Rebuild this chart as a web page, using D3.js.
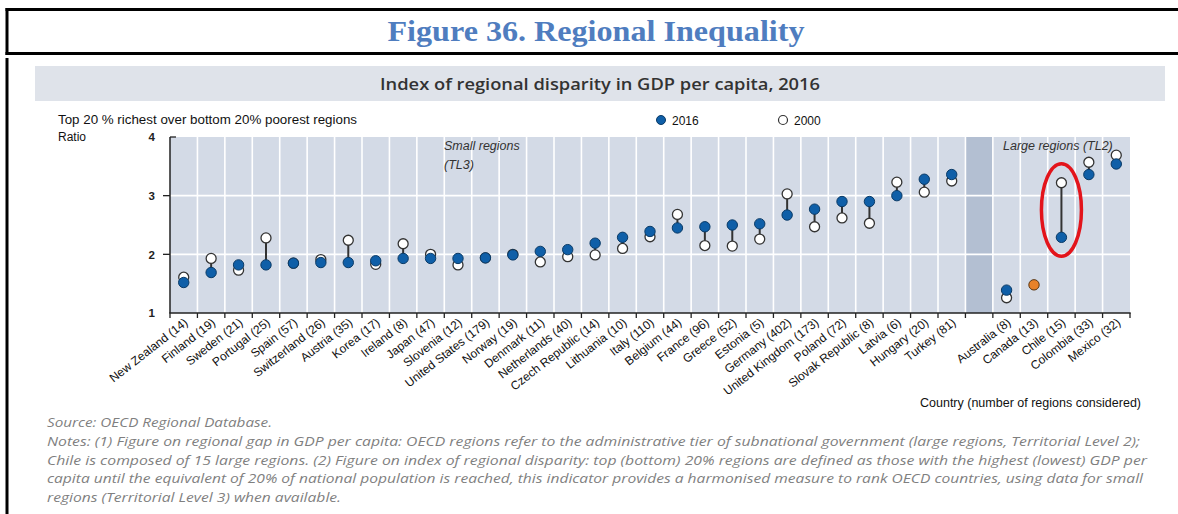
<!DOCTYPE html>
<html>
<head>
<meta charset="utf-8">
<script src="https://cdn.jsdelivr.net/npm/d3@7/dist/d3.min.js"></script>
<style>
  html, body { margin: 0; padding: 0; background: #fff; }
  svg { display: block; }
</style>
</head>
<body>
<svg id="chart" width="1178" height="514"></svg>
<script>
// Countries (number of regions considered), small regions (TL3)
const smallCountries = ["New Zealand (14)", "Finland (19)", "Sweden (21)", "Portugal (25)", "Spain (57)",
  "Switzerland (26)", "Austria (35)", "Korea (17)", "Ireland (8)", "Japan (47)", "Slovenia (12)",
  "United States (179)", "Norway (19)", "Denmark (11)", "Netherlands (40)", "Czech Republic (14)",
  "Lithuania (10)", "Italy (110)", "Belgium (44)", "France (96)", "Greece (52)", "Estonia (5)",
  "Germany (402)", "United Kingdom (173)", "Poland (72)", "Slovak Republic (8)", "Latvia (6)",
  "Hungary (20)", "Turkey (81)"];
const small2016 = [1.52, 1.69, 1.82, 1.82, 1.85, 1.86, 1.86, 1.89, 1.93, 1.93, 1.93, 1.94, 1.99, 2.05,
  2.08, 2.19, 2.29, 2.39, 2.45, 2.47, 2.50, 2.52, 2.67, 2.77, 2.90, 2.90, 3.00, 3.28, 3.36];
const small2000 = [1.61, 1.93, 1.73, 2.28, 1.85, 1.91, 2.24, 1.83, 2.18, 2.00, 1.82, 1.94, 2.00, 1.87,
  1.96, 1.99, 2.10, 2.30, 2.68, 2.15, 2.14, 2.26, 3.03, 2.47, 2.62, 2.53, 3.23, 3.06, 3.25];

// Large regions (TL2)
const largeCountries = ["Australia (8)", "Canada (13)", "Chile (15)", "Colombia (33)", "Mexico (32)"];
const large2016 = [1.39, 1.48, 2.29, 3.36, 3.54];
const large2000 = [1.26, null, 3.22, 3.57, 3.69];

const yTicks = [1, 2, 3, 4];
const highlighted = "Chile (15)";   // circled country
const noHistory = "Canada (13)";    // 2016 only, shown in orange
const GAP = "__gap__";

const rows = smallCountries.map((c, i) => ({ c, v16: small2016[i], v00: small2000[i] }))
  .concat(largeCountries.map((c, i) => ({ c, v16: large2016[i], v00: large2000[i] })));
const domain = smallCountries.concat([GAP], largeCountries);

const svg = d3.select("#chart");

// ---- Figure header box ----
const frame = svg.append("g").attr("stroke", "#000").attr("stroke-width", 3).attr("fill", "none");
frame.append("line").attr("x1", 5.5).attr("x2", 1178).attr("y1", 9.5).attr("y2", 9.5);
frame.append("line").attr("x1", 5.5).attr("x2", 1178).attr("y1", 53.5).attr("y2", 53.5);
frame.append("line").attr("x1", 7).attr("x2", 7).attr("y1", 8).attr("y2", 55);
frame.append("line").attr("x1", 7).attr("x2", 7).attr("y1", 58).attr("y2", 514);

svg.append("text")
  .attr("x", 596).attr("y", 41)
  .attr("text-anchor", "middle")
  .attr("font-family", "Liberation Serif, Times New Roman, serif")
  .attr("font-weight", "bold")
  .attr("font-size", 29)
  .attr("fill", "#4f7dbf")
  .attr("textLength", 417).attr("lengthAdjust", "spacingAndGlyphs")
  .text("Figure 36. Regional Inequality");

// ---- Chart title band ----
svg.append("rect").attr("x", 35).attr("y", 66).attr("width", 1130).attr("height", 35).attr("fill", "#dfe3ea");
svg.append("text")
  .attr("x", 600).attr("y", 89.5)
  .attr("text-anchor", "middle")
  .attr("font-family", "Open Sans, sans-serif")
  .attr("font-weight", 600)
  .attr("font-size", 16)
  .attr("fill", "#333")
  .attr("textLength", 440).attr("lengthAdjust", "spacingAndGlyphs")
  .text("Index of regional disparity in GDP per capita, 2016");

const sans = "Liberation Sans, Arial, sans-serif";
svg.append("text").attr("x", 58).attr("y", 124).attr("font-family", sans).attr("font-size", 12)
  .attr("fill", "#111").attr("textLength", 299).attr("lengthAdjust", "spacingAndGlyphs")
  .text("Top 20 % richest over bottom  20% poorest regions");
svg.append("text").attr("x", 58).attr("y", 141).attr("font-family", sans).attr("font-size", 12)
  .attr("fill", "#111").text("Ratio");

// ---- Legend ----
const legend = svg.append("g").attr("font-family", sans).attr("font-size", 12).attr("fill", "#111");
legend.append("circle").attr("cx", 661).attr("cy", 120).attr("r", 4.5)
  .attr("fill", "#0f5fa8").attr("stroke", "#0a3a66").attr("stroke-width", 1);
legend.append("text").attr("x", 672).attr("y", 124.5).text("2016");
legend.append("circle").attr("cx", 783).attr("cy", 120).attr("r", 4.5)
  .attr("fill", "#fff").attr("stroke", "#333").attr("stroke-width", 1.2);
legend.append("text").attr("x", 794).attr("y", 124.5).text("2000");

// ---- Scales ----
const x = d3.scaleBand().domain(domain).range([170, 1130]).padding(0);
const y = d3.scaleLinear().domain([1, 4]).range([313, 137]);
const bw = x.bandwidth();

const plot = svg.append("g");
plot.append("rect").attr("x", 170).attr("y", y(4)).attr("width", 960).attr("height", y(1) - y(4))
  .attr("fill", "#d3dae6");
plot.append("rect").attr("x", x(GAP)).attr("y", y(4)).attr("width", bw).attr("height", y(1) - y(4))
  .attr("fill", "#b3bfd2");

// horizontal gridlines
plot.selectAll("line.hg").data(yTicks.filter(t => t > 1 && t < 4)).join("line")
  .attr("x1", 170).attr("x2", 1130).attr("y1", d => y(d)).attr("y2", d => y(d))
  .attr("stroke", "#fff").attr("stroke-width", 1.6);

// vertical separators between countries
plot.selectAll("line.vg").data(domain.slice(1)).join("line")
  .attr("x1", d => x(d)).attr("x2", d => x(d)).attr("y1", y(4)).attr("y2", y(1))
  .attr("stroke", "#fff").attr("stroke-width", 1.6);

// ---- Axes ----
const yAxis = d3.axisLeft(y).tickValues(yTicks).tickSize(0).tickPadding(15).tickFormat(d3.format("d"));
const gy = svg.append("g").attr("transform", "translate(170,0)").call(yAxis);
gy.select(".domain").remove();
gy.selectAll("text").attr("font-family", sans).attr("font-size", 11.5).attr("font-weight", "bold").attr("fill", "#222");
svg.append("line").attr("x1", 170).attr("x2", 170).attr("y1", y(4)).attr("y2", y(1))
  .attr("stroke", "#222").attr("stroke-width", 1.5);
svg.selectAll("line.yt").data(yTicks.filter(t => t > 1 && t < 4)).join("line")
  .attr("x1", 163).attr("x2", 170).attr("y1", d => y(d)).attr("y2", d => y(d))
  .attr("stroke", "#222").attr("stroke-width", 1.3);
svg.append("line").attr("x1", 170).attr("x2", 176).attr("y1", y(4)).attr("y2", y(4))
  .attr("stroke", "#222").attr("stroke-width", 1.3);

svg.append("line").attr("x1", 169.3).attr("x2", 1130.7).attr("y1", y(1)).attr("y2", y(1))
  .attr("stroke", "#222").attr("stroke-width", 1.5);
const bounds = domain.map(d => x(d)).concat([x(domain[domain.length - 1]) + bw]);
svg.selectAll("line.xt").data(bounds).join("line")
  .attr("x1", d => d).attr("x2", d => d).attr("y1", y(1)).attr("y2", y(1) + 5)
  .attr("stroke", "#222").attr("stroke-width", 1.3);

// category labels
svg.append("g").selectAll("text").data(rows).join("text")
  .attr("transform", d => `translate(${x(d.c) + bw / 2 + 5},${y(1) + 11}) rotate(-38)`)
  .attr("text-anchor", "end")
  .attr("font-family", sans).attr("font-size", 12).attr("fill", "#111")
  .text(d => d.c);

svg.append("text").attr("x", 1141).attr("y", 407).attr("text-anchor", "end")
  .attr("font-family", sans).attr("font-size", 12).attr("fill", "#111")
  .attr("textLength", 221).attr("lengthAdjust", "spacingAndGlyphs")
  .text("Country (number of regions considered)");

// group captions
const cap = svg.append("g").attr("font-family", sans).attr("font-size", 12.5)
  .attr("font-style", "italic").attr("fill", "#333");
cap.append("text").attr("x", 444).attr("y", 150).text("Small regions");
cap.append("text").attr("x", 444).attr("y", 169).text("(TL3)");
cap.append("text").attr("x", 1003).attr("y", 150).text("Large regions (TL2)");

// ---- Dumbbells ----
const marks = svg.append("g");
marks.selectAll("line.conn").data(rows.filter(d => d.v00 != null)).join("line")
  .attr("x1", d => x(d.c) + bw / 2).attr("x2", d => x(d.c) + bw / 2)
  .attr("y1", d => y(d.v00)).attr("y2", d => y(d.v16))
  .attr("stroke", "#333").attr("stroke-width", 2);
marks.selectAll("circle.v00").data(rows.filter(d => d.v00 != null)).join("circle")
  .attr("cx", d => x(d.c) + bw / 2).attr("cy", d => y(d.v00)).attr("r", 5)
  .attr("fill", "#fff").attr("stroke", "#333").attr("stroke-width", 1.3);
marks.selectAll("circle.v16").data(rows).join("circle")
  .attr("cx", d => x(d.c) + bw / 2).attr("cy", d => y(d.v16)).attr("r", 5.2)
  .attr("fill", d => d.c === noHistory ? "#e8822a" : "#0f5fa8")
  .attr("stroke", d => d.c === noHistory ? "#5a3510" : "#0a3a66").attr("stroke-width", 1);

// highlight ring around Chile
const hl = rows.find(d => d.c === highlighted);
svg.append("ellipse")
  .attr("cx", x(hl.c) + bw / 2)
  .attr("cy", y((hl.v16 + hl.v00) / 2))
  .attr("rx", 20)
  .attr("ry", Math.abs(y(hl.v16) - y(hl.v00)) / 2 + 19)
  .attr("fill", "none").attr("stroke", "#e3141b").attr("stroke-width", 3.5);

// ---- Source and notes ----
const notes = [
  ["Source: OECD Regional Database.", 225],
  ["Notes: (1) Figure on regional gap in GDP per capita: OECD regions refer to the administrative tier of subnational government (large regions, Territorial Level 2);", 1093],
  ["Chile is composed of 15 large regions. (2) Figure on index of regional disparity: top (bottom) 20% regions are defined as those with the highest (lowest) GDP per", 1100],
  ["capita until the equivalent of 20% of national population is reached, this indicator provides a harmonised measure to rank OECD countries, using data for small", 1096],
  ["regions (Territorial Level 3) when available.", 294]
];
svg.append("g").selectAll("text").data(notes).join("text")
  .attr("x", 47).attr("y", (d, i) => 427 + i * 18.8)
  .attr("font-family", "Open Sans, sans-serif").attr("font-style", "italic")
  .attr("font-size", 12.5).attr("fill", "#7f7f7f")
  .attr("textLength", d => d[1]).attr("lengthAdjust", "spacingAndGlyphs")
  .text(d => d[0]);
</script>
</body>
</html>
